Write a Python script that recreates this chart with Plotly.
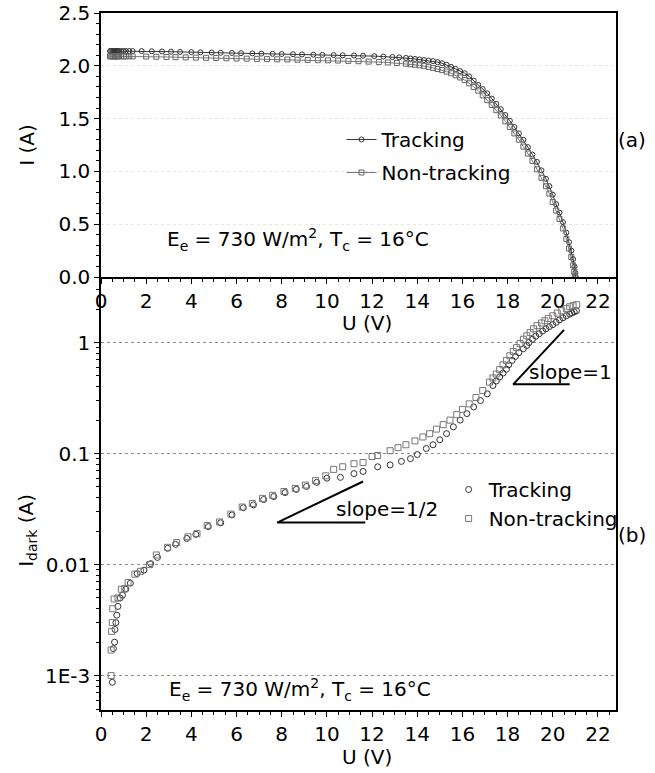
import plotly.graph_objects as go

# ---------------- data ----------------
# Panel (a): I-V curves, (U [V], I [A])
iv_tracking = [
    (0.40, 2.14), (0.45, 2.14), (0.50, 2.14), (0.55, 2.14), (0.60, 2.14), (0.65, 2.14),
    (0.70, 2.14), (0.75, 2.14), (0.80, 2.14), (0.90, 2.14), (1.00, 2.14), (1.10, 2.14),
    (1.25, 2.14), (1.40, 2.14), (1.80, 2.14), (2.25, 2.138), (2.70, 2.136), (3.10, 2.134),
    (3.50, 2.132), (4.00, 2.13), (4.40, 2.128), (4.90, 2.126), (5.30, 2.124), (5.80, 2.122),
    (6.20, 2.12), (6.70, 2.118), (7.10, 2.116), (7.60, 2.114), (8.00, 2.112), (8.50, 2.11),
    (8.90, 2.108), (9.40, 2.106), (9.80, 2.104), (10.3, 2.102), (10.7, 2.10), (11.2, 2.098),
    (11.6, 2.096), (12.1, 2.092), (12.5, 2.088), (12.9, 2.084), (13.2, 2.08),
    (13.5, 2.075), (13.7, 2.07), (13.9, 2.065), (14.1, 2.06), (14.3, 2.055), (14.5, 2.05),
    (14.7, 2.045), (14.9, 2.035), (15.1, 2.025), (15.3, 2.01), (15.5, 1.99), (15.7, 1.97),
    (15.9, 1.95), (16.1, 1.93), (16.3, 1.90), (16.5, 1.86), (16.7, 1.82), (16.9, 1.78),
    (17.1, 1.74), (17.3, 1.69), (17.5, 1.64), (17.7, 1.59), (17.9, 1.535), (18.1, 1.48),
    (18.3, 1.42), (18.5, 1.36), (18.7, 1.30), (18.9, 1.23), (19.1, 1.16), (19.3, 1.09),
    (19.5, 1.01), (19.7, 0.93), (19.85, 0.86), (20.0, 0.78), (20.15, 0.69), (20.3, 0.61),
    (20.45, 0.52), (20.6, 0.42), (20.72, 0.33), (20.82, 0.25), (20.9, 0.17), (20.96, 0.10),
    (21.0, 0.04), (21.02, 0.0),
]
iv_nontracking = [
    (0.40, 2.09), (0.45, 2.09), (0.50, 2.09), (0.55, 2.09), (0.60, 2.09), (0.65, 2.09),
    (0.70, 2.09), (0.75, 2.09), (0.80, 2.09), (0.90, 2.09), (1.00, 2.09), (1.10, 2.09),
    (1.25, 2.09), (1.40, 2.09), (2.00, 2.088), (2.45, 2.086), (2.90, 2.084), (3.30, 2.082),
    (3.75, 2.08), (4.20, 2.078), (4.65, 2.076), (5.10, 2.074), (5.55, 2.072), (6.00, 2.07),
    (6.45, 2.068), (6.90, 2.066), (7.35, 2.064), (7.80, 2.062), (8.25, 2.06), (8.70, 2.058),
    (9.15, 2.056), (9.60, 2.054), (10.05, 2.052), (10.5, 2.05), (10.95, 2.047), (11.4, 2.044),
    (11.85, 2.04), (12.3, 2.036), (12.7, 2.032), (13.1, 2.027),
    (13.5, 2.02), (13.7, 2.015), (13.9, 2.01), (14.1, 2.005), (14.3, 2.0), (14.5, 1.99),
    (14.7, 1.98), (14.9, 1.97), (15.1, 1.96), (15.3, 1.945), (15.5, 1.93), (15.7, 1.91),
    (15.9, 1.89), (16.1, 1.865), (16.3, 1.835), (16.5, 1.80), (16.7, 1.765), (16.9, 1.72),
    (17.1, 1.675), (17.3, 1.63), (17.5, 1.58), (17.7, 1.53), (17.9, 1.475), (18.1, 1.42),
    (18.3, 1.36), (18.5, 1.30), (18.7, 1.235), (18.9, 1.17), (19.1, 1.10), (19.3, 1.02),
    (19.5, 0.94), (19.7, 0.86), (19.85, 0.79), (20.0, 0.71), (20.15, 0.63), (20.3, 0.55),
    (20.45, 0.46), (20.6, 0.36), (20.72, 0.27), (20.82, 0.19), (20.9, 0.11), (20.95, 0.05),
    (20.98, 0.0),
]

# Panel (b): dark current, (U [V], I_dark [A])
dark_tracking = [
    (0.50, 0.00087), (0.55, 0.00175), (0.60, 0.0020), (0.62, 0.0026), (0.66, 0.0030),
    (0.70, 0.0035), (0.75, 0.0042), (0.85, 0.0050), (0.95, 0.0053), (1.10, 0.0060),
    (1.30, 0.0068), (1.60, 0.0083), (1.90, 0.0089), (2.20, 0.0102), (2.50, 0.0116),
    (2.95, 0.0140), (3.30, 0.0152), (3.80, 0.0172), (4.20, 0.0187), (4.75, 0.0220),
    (5.30, 0.0238), (5.80, 0.0280), (6.30, 0.0325), (6.75, 0.0345), (7.20, 0.0385),
    (7.65, 0.0410), (8.15, 0.0445), (8.65, 0.0475), (9.10, 0.0505), (9.55, 0.0550),
    (10.0, 0.0600), (10.6, 0.0610), (11.2, 0.0660), (11.6, 0.0690), (12.25, 0.0760),
    (12.8, 0.0790), (13.3, 0.0850), (13.7, 0.0900), (14.0, 0.0980), (14.4, 0.111),
    (14.7, 0.120), (15.0, 0.133), (15.3, 0.151), (15.6, 0.174), (15.9, 0.200),
    (16.2, 0.229), (16.5, 0.263), (16.8, 0.300), (17.1, 0.345), (17.35, 0.41),
    (17.5, 0.45), (17.65, 0.49), (17.8, 0.53), (17.95, 0.575), (18.05, 0.63),
    (18.2, 0.69), (18.35, 0.75), (18.5, 0.81), (18.7, 0.88), (18.85, 0.94),
    (18.95, 1.0), (19.1, 1.07), (19.25, 1.14), (19.4, 1.20), (19.55, 1.27),
    (19.7, 1.33), (19.85, 1.39), (20.0, 1.45), (20.15, 1.52), (20.3, 1.60),
    (20.45, 1.67), (20.6, 1.74), (20.75, 1.80), (20.85, 1.85), (20.95, 1.89),
    (21.05, 1.93),
]
dark_nontracking = [
    (0.45, 0.0010), (0.45, 0.0017), (0.47, 0.0025), (0.50, 0.0030), (0.52, 0.0040),
    (0.58, 0.0049), (0.75, 0.0050), (0.90, 0.0060), (1.05, 0.0061), (1.20, 0.0069),
    (1.50, 0.0082), (1.75, 0.0087), (2.15, 0.0100), (2.45, 0.0122), (2.95, 0.0143),
    (3.35, 0.0158), (3.85, 0.0178), (4.25, 0.0190), (4.70, 0.0225), (5.25, 0.0242),
    (5.75, 0.0285), (6.25, 0.0330), (6.70, 0.0355), (7.15, 0.0395), (7.60, 0.0420),
    (8.10, 0.0455), (8.60, 0.0485), (9.05, 0.0520), (9.50, 0.0570), (9.95, 0.0630),
    (10.3, 0.072), (10.7, 0.076), (11.2, 0.081), (11.6, 0.083), (12.0, 0.094),
    (12.25, 0.096), (12.8, 0.106), (13.15, 0.113), (13.5, 0.120), (13.9, 0.130),
    (14.25, 0.141), (14.55, 0.151), (14.85, 0.166), (15.15, 0.182), (15.45, 0.200),
    (15.75, 0.224), (16.0, 0.250), (16.3, 0.28), (16.6, 0.32), (16.9, 0.37),
    (17.2, 0.44), (17.35, 0.48), (17.5, 0.52), (17.65, 0.57), (17.8, 0.63),
    (17.95, 0.69), (18.1, 0.76), (18.25, 0.83), (18.4, 0.90), (18.55, 0.98),
    (18.7, 1.07), (18.85, 1.15), (19.0, 1.23), (19.15, 1.33), (19.3, 1.42),
    (19.5, 1.50), (19.65, 1.57), (19.8, 1.65), (20.0, 1.74), (20.2, 1.84),
    (20.4, 1.93), (20.6, 2.02), (20.75, 2.10), (20.9, 2.15), (21.06, 2.19),
]

# guide triangles (hypotenuse end -> corner -> base end)
slope_half_U = [11.6, 7.8, 11.7]
slope_half_I = [0.056, 0.0239, 0.0239]
slope_one_U = [20.5, 18.25, 20.75]
slope_one_I = [1.30, 0.42, 0.42]

x_ticks = [0, 2, 4, 6, 8, 10, 12, 14, 16, 18, 20, 22]
y_ticks_a = [0.0, 0.5, 1.0, 1.5, 2.0, 2.5]
log_tickvals = [0.001, 0.01, 0.1, 1]
log_ticktext = ["1E-3", "0.01", "0.1", "1"]
log_minor_mantissas = [2, 3, 4, 5, 6, 7, 8, 9]
log_minor_decades = [0.0001, 0.001, 0.01, 0.1, 1]
# ---------------------------------------------------------------

FONT = "DejaVu Sans"
FS = 20

def unzip(pairs):
    return [p[0] for p in pairs], [p[1] for p in pairs]

log_minor_vals = [m * d for d in log_minor_decades for m in log_minor_mantissas]

fig = go.Figure()

u, i = unzip(iv_tracking)
fig.add_trace(go.Scatter(x=u, y=i, mode="lines+markers", name="Tracking",
                         xaxis="x", yaxis="y", legend="legend", legendgroup="a1",
                         line=dict(color="#333333", width=1),
                         marker=dict(symbol="circle-open", size=5, color="#333333",
                                     line=dict(width=1))))
u, i = unzip(iv_nontracking)
fig.add_trace(go.Scatter(x=u, y=i, mode="lines+markers", name="Non-tracking",
                         xaxis="x", yaxis="y", legend="legend", legendgroup="a2",
                         line=dict(color="#777777", width=1),
                         marker=dict(symbol="square-open", size=5, color="#666666",
                                     line=dict(width=1))))

u, i = unzip(dark_tracking)
fig.add_trace(go.Scatter(x=u, y=i, mode="markers", name="Tracking",
                         xaxis="x2", yaxis="y2", legend="legend2",
                         marker=dict(symbol="circle-open", size=6, color="#333333",
                                     line=dict(width=1))))
u, i = unzip(dark_nontracking)
fig.add_trace(go.Scatter(x=u, y=i, mode="markers", name="Non-tracking",
                         xaxis="x2", yaxis="y2", legend="legend2",
                         marker=dict(symbol="square-open", size=6, color="#777777",
                                     line=dict(width=1))))

for su, si in ((slope_half_U, slope_half_I), (slope_one_U, slope_one_I)):
    fig.add_trace(go.Scatter(x=su, y=si, mode="lines", showlegend=False,
                             xaxis="x2", yaxis="y2", hoverinfo="skip",
                             line=dict(color="black", width=2)))

split = 0.6212
axis_common = dict(showline=True, linecolor="black", linewidth=1.5,
                   ticks="outside", tickcolor="black", tickwidth=1,
                   tickfont=dict(family=FONT, size=FS, color="black"),
                   zeroline=False, automargin=False, ticklabeloverflow="allow")

fig.update_layout(
    width=655, height=773,
    margin=dict(l=101, r=39, t=13, b=63),
    paper_bgcolor="white", plot_bgcolor="white",
    font=dict(family=FONT, size=FS, color="black"),
    xaxis=dict(domain=[0, 1], anchor="y", range=[0, 22.8], tickvals=x_ticks,
               ticklen=5, mirror=True, showgrid=False,
               minor=dict(ticks="outside", ticklen=3, dtick=0.5, tickcolor="black"),
               **axis_common),
    yaxis=dict(domain=[split, 1], anchor="x", range=[0, 2.5005], tickvals=y_ticks_a,
               tickformat=".1f", ticklen=5, mirror=True,
               showgrid=True, gridcolor="#e6e6e6", griddash="dot",
               minor=dict(ticks="outside", ticklen=3, dtick=0.1, tickcolor="black"),
               **axis_common),
    xaxis2=dict(domain=[0, 1], anchor="y2", range=[0, 22.8], tickvals=x_ticks,
                ticklen=5, mirror=False, showgrid=False,
                minor=dict(ticks="outside", ticklen=3, dtick=0.5, tickcolor="black"),
                **axis_common),
    yaxis2=dict(domain=[0, split], anchor="x2", type="log", range=[-3.31, 0.59],
                tickvals=log_tickvals, ticktext=log_ticktext, ticklen=5,
                mirror=True,
                showgrid=True, gridcolor="#8c8c8c", griddash="dot", gridwidth=1,
                minor=dict(ticks="outside", ticklen=3, tickcolor="black",
                           tickvals=log_minor_vals, showgrid=False),
                **axis_common),
    legend=dict(x=0.467, y=0.8465, xanchor="left", yanchor="top",
                bgcolor="rgba(0,0,0,0)", font=dict(family=FONT, size=FS),
                tracegroupgap=4, itemwidth=30),
    legend2=dict(x=0.675, y=0.3443, xanchor="left", yanchor="top",
                 bgcolor="rgba(0,0,0,0)", font=dict(family=FONT, size=FS),
                 itemwidth=30),
)

ann = [
    dict(text="E<sub>e</sub> = 730 W/m<sup>2</sup>, T<sub>c</sub> = 16°C",
         x=0.124, y=0.675, xanchor="left", yanchor="middle"),
    dict(text="E<sub>e</sub> = 730 W/m<sup>2</sup>, T<sub>c</sub> = 16°C",
         x=0.128, y=0.0301, xanchor="left", yanchor="middle"),
    dict(text="(a)", x=1.031, y=0.8175, xanchor="center", yanchor="middle"),
    dict(text="(b)", x=1.031, y=0.2511, xanchor="center", yanchor="middle"),
    dict(text="I (A)", x=-0.144, y=0.8106, xanchor="center", yanchor="middle",
         textangle=-90),
    dict(text="I<sub>dark</sub> (A)", x=-0.144, y=0.2583, xanchor="center",
         yanchor="middle", textangle=-90),
    dict(text="U (V)", x=0.517, y=0.5552, xanchor="center", yanchor="middle"),
    dict(text="U (V)", x=0.517, y=-0.0674, xanchor="center", yanchor="middle"),
    dict(text="slope=1/2", x=0.555, y=0.2884, xanchor="center", yanchor="middle"),
    dict(text="slope=1", x=0.911, y=0.485, xanchor="center", yanchor="middle"),
]
for a in ann:
    a.update(xref="paper", yref="paper", showarrow=False,
             font=dict(family=FONT, size=FS, color="black"))
fig.update_layout(annotations=ann)

fig.write_html("out.html")
